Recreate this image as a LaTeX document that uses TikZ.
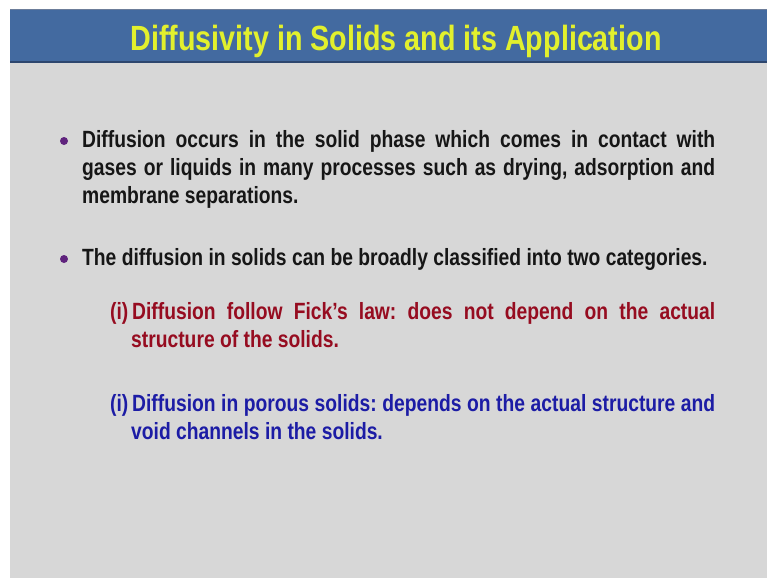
\documentclass[tikz,border=0pt]{standalone}
\usepackage{fontspec}
\newfontfamily\slidefont{Liberation Sans Bold}[FakeStretch=0.82]
\definecolor{hdrblue}{RGB}{67,106,160}
\definecolor{hdrdark}{RGB}{45,70,110}
\definecolor{bodygray}{RGB}{215,215,215}
\definecolor{ttlyellow}{RGB}{226,240,45}
\definecolor{txtred}{RGB}{150,12,32}
\definecolor{txtblue}{RGB}{28,28,165}
\definecolor{txtblack}{RGB}{22,22,22}
\definecolor{dotpurple}{RGB}{95,35,125}
\tikzset{
  txt/.style={anchor=base west, inner sep=0pt, font=\slidefont\fontsize{23.5}{28}\selectfont\frenchspacing, text=txtblack},
  ttl/.style={anchor=base, inner sep=0pt, font=\slidefont\fontsize{35}{40}\selectfont, text=ttlyellow},
  dot/.style={circle, fill=dotpurple, inner sep=0pt, minimum size=8pt}
}
\begin{document}
\begin{tikzpicture}[x=1pt,y=-1pt]
\useasboundingbox (0,0) rectangle (767,578);
\fill[white] (0,0) rectangle (767,578);
\fill[bodygray] (10,63) rectangle (767,578);
\fill[hdrblue] (10,9) rectangle (767,62);
\fill[hdrdark] (10,61) rectangle (767,63);
\fill[hdrdark!70] (10,9) rectangle (767,10);
\node[ttl] (title) at (396,51) {Diffusivity in Solids and its Application};
% bullet 1
\node[dot] (d1) at (64,141) {};
\node[txt] (b1a) at (82,147) {\makebox[633pt][s]{Diffusion occurs in the solid phase which comes in contact with}};
\node[txt] (b1b) at (82,175) {\makebox[633pt][s]{gases or liquids in many processes such as drying, adsorption and}};
\node[txt] (b1c) at (82,203) {membrane separations.};
% bullet 2
\node[dot] (d2) at (64,259) {};
\node[txt] (b2) at (82,265) {The diffusion in solids can be broadly classified into two categories.};
% red item
\node[txt, text=txtred] (r0) at (110,319) {(i)};
\node[txt, text=txtred] (r1) at (132,319) {\makebox[583pt][s]{Diffusion follow Fick’s law: does not depend on the actual}};
\node[txt, text=txtred] (r2) at (131,347) {structure of the solids.};
% blue item
\node[txt, text=txtblue] (u0) at (110,411) {(i)};
\node[txt, text=txtblue] (u1) at (132,411) {\makebox[583pt][s]{Diffusion in porous solids: depends on the actual structure and}};
\node[txt, text=txtblue] (u2) at (131,439) {void channels in the solids.};
\end{tikzpicture}
\end{document}
